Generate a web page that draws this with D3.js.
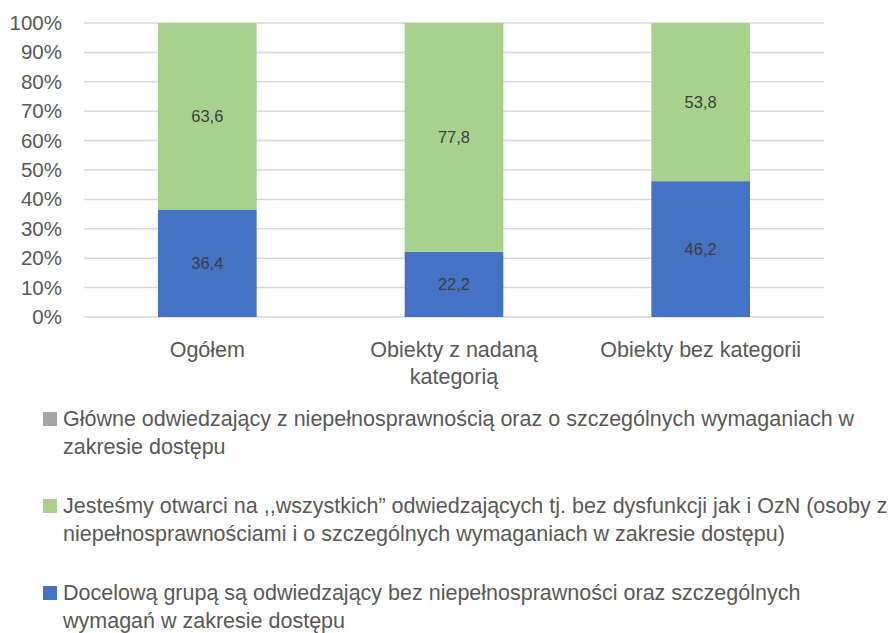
<!DOCTYPE html>
<html>
<head>
<meta charset="utf-8">
<script src="https://cdn.jsdelivr.net/npm/d3@7"></script>
<style>
  body { margin: 0; background: #fff; }
  svg { display: block; font-family: "Liberation Sans", Arial, sans-serif; }
</style>
</head>
<body>
<script>
// data
const categories = ["Ogółem", "Obiekty z nadaną kategorią", "Obiekty bez kategorii"];
const categoryLines = [["Ogółem"], ["Obiekty z nadaną", "kategorią"], ["Obiekty bez kategorii"]];
const blueValues = [36.4, 22.2, 46.2];
const greenValues = [63.6, 77.8, 53.8];
const grayValues = [0, 0, 0];
const yTicks = [0, 10, 20, 30, 40, 50, 60, 70, 80, 90, 100];
const legendLines = [
  ["Główne odwiedzający z niepełnosprawnością oraz o szczególnych wymaganiach w", "zakresie dostępu"],
  ["Jesteśmy otwarci na ,,wszystkich” odwiedzających tj. bez dysfunkcji jak i OzN (osoby z", "niepełnosprawnościami i o szczególnych wymaganiach w zakresie dostępu)"],
  ["Docelową grupą są odwiedzający bez niepełnosprawności oraz szczególnych", "wymagań w zakresie dostępu"]
];

function main(){
    const width = 895;
    const height = 633;
    const colors = {blue: "#4472C4", green: "#A9D18E", gray: "#A5A5A5"};

    const svg = d3.select("body").append("svg")
        .attr("width", width)
        .attr("height", height);

    const x = d3.scaleBand()
        .domain(categories)
        .range([84, 824])
        .paddingInner(0.6)
        .paddingOuter(0.3);

    const y = d3.scaleLinear()
        .domain([0, 100])
        .range([317, 23]);

    // gridlines
    svg.append("g")
        .selectAll("line")
        .data(yTicks)
        .enter()
        .append("line")
        .attr("x1", 84)
        .attr("x2", 824)
        .attr("y1", d => y(d))
        .attr("y2", d => y(d))
        .style("stroke", "#d9d9d9")
        .style("stroke-width", 1.5);

    // y tick labels
    svg.append("g")
        .selectAll("text")
        .data(yTicks)
        .enter()
        .append("text")
        .attr("x", 62)
        .attr("y", d => y(d) + 7)
        .style("text-anchor", "end")
        .style("font-size", "20.5px")
        .style("fill", "#595959")
        .text(d => d + "%");

    // stacked data
    const rows = categories.map((c, i) => ({cat: c, blue: blueValues[i], green: greenValues[i], gray: grayValues[i]}));
    const stack = d3.stack().keys(["blue", "green", "gray"]);
    const series = stack(rows);

    const layers = svg.append("g")
        .selectAll("g")
        .data(series)
        .enter()
        .append("g")
        .style("fill", d => colors[d.key]);

    layers.selectAll("rect")
        .data(d => d)
        .enter()
        .append("rect")
        .attr("x", d => x(d.data.cat))
        .attr("width", x.bandwidth())
        .attr("y", d => y(d[1]))
        .attr("height", d => y(d[0]) - y(d[1]));

    // value labels
    layers.filter(d => d.key !== "gray")
        .selectAll("text")
        .data(d => d.map(v => ({v: v, key: d.key})))
        .enter()
        .append("text")
        .attr("x", d => x(d.v.data.cat) + x.bandwidth() / 2)
        .attr("y", d => y((d.v[0] + d.v[1]) / 2) + 6)
        .style("text-anchor", "middle")
        .style("font-size", "16.5px")
        .style("fill", "#404040")
        .text(d => String(d.v.data[d.key]).replace(".", ","));

    // category labels
    const xl = svg.append("g")
        .selectAll("text")
        .data(categories)
        .enter()
        .append("text")
        .attr("x", d => x(d) + x.bandwidth() / 2)
        .attr("y", 357)
        .style("text-anchor", "middle")
        .style("font-size", "21.5px")
        .style("fill", "#595959");
    xl.selectAll("tspan")
        .data((d, i) => categoryLines[i])
        .enter()
        .append("tspan")
        .attr("x", function(){ return d3.select(this.parentNode).attr("x"); })
        .attr("dy", (d, i) => i === 0 ? 0 : 27)
        .text(d => d);

    // legend
    const legendColors = [colors.gray, colors.green, colors.blue];
    const legendY = [426, 513, 600];
    const lg = svg.append("g")
        .selectAll("g")
        .data(legendLines)
        .enter()
        .append("g")
        .attr("transform", (d, i) => "translate(0," + legendY[i] + ")");

    lg.append("rect")
        .attr("x", 43)
        .attr("y", -14)
        .attr("width", 14)
        .attr("height", 14)
        .style("fill", (d, i) => legendColors[i]);

    lg.append("text")
        .attr("x", 63)
        .style("font-size", "21.5px")
        .style("fill", "#595959")
        .selectAll("tspan")
        .data(d => d)
        .enter()
        .append("tspan")
        .attr("x", 63)
        .attr("dy", (d, i) => i === 0 ? 0 : 28)
        .text(d => d);
}

main();
</script>
</body>
</html>
